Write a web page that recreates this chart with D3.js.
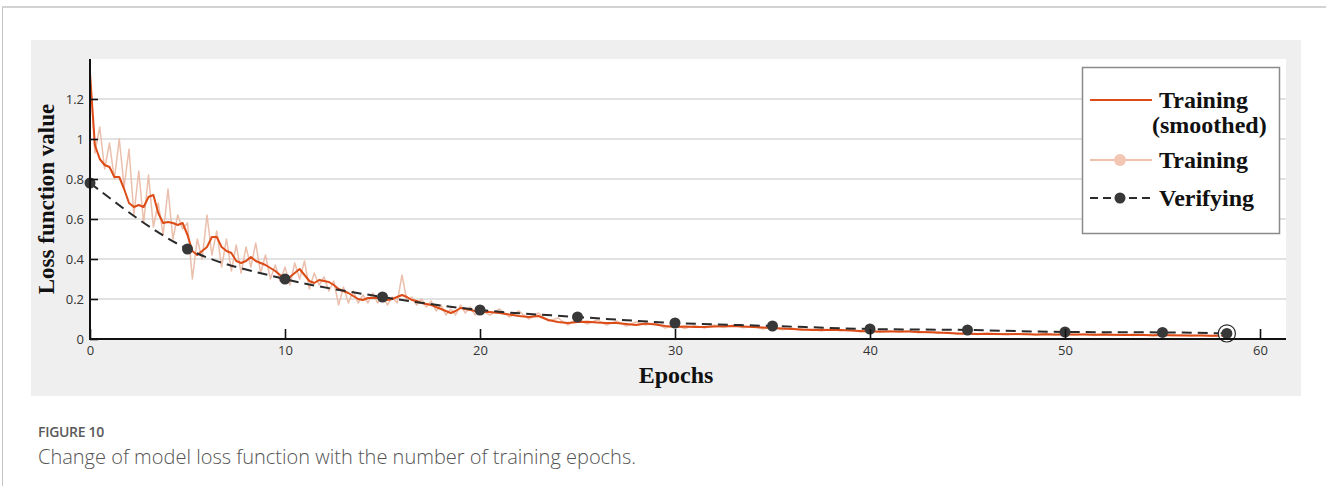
<!DOCTYPE html>
<html>
<head>
<meta charset="utf-8">
<script src="https://cdn.jsdelivr.net/npm/d3@7"></script>
<style>
  html, body { margin: 0; padding: 0; background: #fff; }
  svg { display: block; }
</style>
</head>
<body>
<svg id="chart" width="1326" height="486"></svg>
<script>
// Training loss, sampled every 0.25 epoch up to epoch 20, then every 0.5 epoch.
const trainingSmoothed = [
  1.33, 0.97, 0.90, 0.87, 0.86, 0.81, 0.81, 0.75, 0.68, 0.66, 0.67, 0.66, 0.71, 0.72, 0.63, 0.58,
  0.585, 0.58, 0.57, 0.58, 0.52, 0.44, 0.42, 0.44, 0.46, 0.51, 0.51, 0.46, 0.44, 0.43, 0.39, 0.38,
  0.39, 0.41, 0.39, 0.38, 0.37, 0.355, 0.34, 0.32, 0.305, 0.31, 0.33, 0.35, 0.32, 0.29, 0.28, 0.295,
  0.29, 0.285, 0.27, 0.25, 0.24, 0.23, 0.215, 0.20, 0.195, 0.205, 0.205, 0.205, 0.20, 0.195, 0.20, 0.21,
  0.22, 0.21, 0.195, 0.19, 0.18, 0.175, 0.17, 0.16, 0.15, 0.14, 0.13, 0.14, 0.155, 0.15, 0.145, 0.14,
  0.135,
  0.135, 0.13, 0.122, 0.115, 0.11, 0.115, 0.095, 0.085, 0.08, 0.085, 0.086, 0.082, 0.08, 0.08, 0.075, 0.07,
  0.078, 0.073, 0.065, 0.06, 0.062, 0.06, 0.06, 0.062, 0.064, 0.065, 0.063, 0.06, 0.057, 0.055, 0.052, 0.05,
  0.047, 0.045, 0.046, 0.045, 0.045, 0.043, 0.04, 0.038, 0.037, 0.037, 0.038, 0.037, 0.035, 0.034, 0.032, 0.03,
  0.028, 0.026, 0.025, 0.026, 0.025, 0.024, 0.025, 0.024, 0.023, 0.024, 0.023, 0.022, 0.023, 0.022, 0.021, 0.022,
  0.021, 0.02, 0.021, 0.02, 0.019, 0.02, 0.019, 0.018, 0.018, 0.017, 0.016, 0.016, 0.015
];
const trainingRaw = [
  1.33, 0.93, 1.06, 0.85, 0.98, 0.80, 1.00, 0.76, 0.95, 0.62, 0.84, 0.58, 0.82, 0.56, 0.68, 0.52,
  0.75, 0.50, 0.62, 0.55, 0.58, 0.30, 0.50, 0.40, 0.62, 0.42, 0.54, 0.36, 0.50, 0.34, 0.47, 0.33,
  0.46, 0.36, 0.48, 0.33, 0.42, 0.30, 0.37, 0.29, 0.36, 0.27, 0.38, 0.30, 0.39, 0.25, 0.33, 0.27,
  0.31, 0.24, 0.29, 0.17, 0.26, 0.18, 0.24, 0.18, 0.22, 0.18, 0.23, 0.18, 0.22, 0.17, 0.21, 0.18,
  0.32, 0.19, 0.21, 0.17, 0.20, 0.16, 0.19, 0.14, 0.17, 0.12, 0.15, 0.12, 0.17, 0.13, 0.16, 0.12,
  0.15,
  0.12, 0.15, 0.11, 0.14, 0.10, 0.13, 0.09, 0.105, 0.07, 0.10, 0.075, 0.095, 0.07, 0.09, 0.065, 0.085,
  0.07, 0.08, 0.055, 0.07, 0.052, 0.068, 0.055, 0.07, 0.058, 0.07, 0.056, 0.065, 0.05, 0.06, 0.046, 0.055,
  0.042, 0.05, 0.04, 0.05, 0.04, 0.047, 0.035, 0.042, 0.033, 0.041, 0.034, 0.04, 0.031, 0.037, 0.028, 0.034,
  0.024, 0.03, 0.022, 0.029, 0.022, 0.027, 0.022, 0.027, 0.02, 0.027, 0.02, 0.025, 0.02, 0.025, 0.018, 0.024,
  0.018, 0.023, 0.018, 0.022, 0.016, 0.022, 0.016, 0.02, 0.015, 0.019, 0.014, 0.017, 0.015
];

// Validation loss, evaluated every 5 epochs plus the final epoch.
const verifyEpochs = [0, 5, 10, 15, 20, 25, 30, 35, 40, 45, 50, 55, 58.3];
const verifyLoss   = [0.78, 0.45, 0.30, 0.21, 0.145, 0.11, 0.08, 0.065, 0.05, 0.045, 0.035, 0.033, 0.028];

const xTicks = [0, 10, 20, 30, 40, 50, 60];
const yTicks = [0, 0.2, 0.4, 0.6, 0.8, 1, 1.2];
const legendItems = ["Training (smoothed)", "Training", "Verifying"];

// epoch for sample i: quarter-epoch steps for the first 20 epochs, half-epoch steps after
const sampleEpoch = i => (i <= 80 ? i * 0.25 : 20 + (i - 80) * 0.5);

const svg = d3.select("#chart");
const W = 1326, H = 486;

// outer page frame
svg.append("line").attr("x1", 2).attr("x2", W).attr("y1", 7).attr("y2", 7)
  .attr("stroke", "#c4c4c4").attr("stroke-width", 1.5);
svg.append("line").attr("x1", 2.5).attr("x2", 2.5).attr("y1", 7).attr("y2", H)
  .attr("stroke", "#c4c4c4").attr("stroke-width", 1);

// grey figure panel
svg.append("rect").attr("x", 31).attr("y", 40).attr("width", 1270).attr("height", 356)
  .attr("fill", "#efefef");

const x = d3.scaleLinear().domain([0, 60]).range([90, 1260]);
const y = d3.scaleLinear().domain([0, 1.4]).range([339, 59]);
const plotRight = 1286;

// white plotting area
svg.append("rect").attr("x", x(0)).attr("y", y(1.4))
  .attr("width", plotRight - x(0)).attr("height", y(0) - y(1.4)).attr("fill", "#fff");

// horizontal grid
svg.append("g").selectAll("line").data(yTicks.filter(d => d > 0)).join("line")
  .attr("x1", x(0)).attr("x2", plotRight)
  .attr("y1", d => y(d)).attr("y2", d => y(d))
  .attr("stroke", "#d9d9d9").attr("stroke-width", 1.6);

const lineFrom = (vals) => d3.line()
  .x((d, i) => x(sampleEpoch(i)))
  .y(d => y(d))(vals);

// raw training loss
svg.append("path").attr("d", lineFrom(trainingRaw))
  .attr("fill", "none").attr("stroke", "#e9b8a3").attr("stroke-width", 1.5)
  .attr("stroke-linejoin", "round").attr("opacity", 0.9);

// smoothed training loss
svg.append("path").attr("d", lineFrom(trainingSmoothed))
  .attr("fill", "none").attr("stroke", "#dd4c17").attr("stroke-width", 2)
  .attr("stroke-linejoin", "round");

// validation loss
const verifyLine = d3.line().x((d, i) => x(verifyEpochs[i])).y(d => y(d)).curve(d3.curveMonotoneX);
svg.append("path").attr("d", verifyLine(verifyLoss))
  .attr("fill", "none").attr("stroke", "#2b2b2b").attr("stroke-width", 2)
  .attr("stroke-dasharray", "10,6");

svg.append("g").selectAll("circle").data(verifyLoss).join("circle")
  .attr("cx", (d, i) => x(verifyEpochs[i])).attr("cy", d => y(d))
  .attr("r", 5.5).attr("fill", "#383838");

// highlight ring on the final validation point
const last = verifyLoss.length - 1;
svg.append("circle").attr("cx", x(verifyEpochs[last])).attr("cy", y(verifyLoss[last]))
  .attr("r", 7.3).attr("fill", "none").attr("stroke", "#fff").attr("stroke-width", 2);
svg.append("circle").attr("cx", x(verifyEpochs[last])).attr("cy", y(verifyLoss[last]))
  .attr("r", 8.6).attr("fill", "none").attr("stroke", "#2b2b2b").attr("stroke-width", 1.2);

// axes
const tickFont = "'Open Sans', 'Noto Sans', sans-serif";
const yAxis = svg.append("g").attr("transform", `translate(${x(0)},0)`)
  .call(d3.axisLeft(y).tickValues(yTicks).tickFormat(d3.format("~g")).tickSize(-8).tickPadding(6));
yAxis.select(".domain").remove();
yAxis.selectAll(".tick line").attr("stroke", "#111").attr("stroke-width", 1.6);
yAxis.selectAll("text").attr("font-family", tickFont).attr("font-size", 13).attr("fill", "#333");

const xAxis = svg.append("g").attr("transform", `translate(0,${y(0)})`)
  .call(d3.axisBottom(x).tickValues(xTicks).tickFormat(d3.format("d")).tickSize(-10).tickPadding(7));
xAxis.select(".domain").remove();
xAxis.selectAll(".tick line").attr("stroke", "#111").attr("stroke-width", 1.6);
xAxis.selectAll("text").attr("font-family", tickFont).attr("font-size", 13).attr("fill", "#333");

svg.append("line").attr("x1", x(0)).attr("x2", x(0)).attr("y1", y(1.4)).attr("y2", y(0) + 1)
  .attr("stroke", "#111").attr("stroke-width", 2);
svg.append("line").attr("x1", x(0) - 1).attr("x2", plotRight).attr("y1", y(0)).attr("y2", y(0))
  .attr("stroke", "#111").attr("stroke-width", 2);

// axis titles
const titleFont = "'Liberation Serif', 'DejaVu Serif', serif";
svg.append("text").attr("x", 676).attr("y", 383).attr("text-anchor", "middle")
  .attr("font-family", titleFont).attr("font-weight", "bold").attr("font-size", 24)
  .attr("fill", "#111").text("Epochs");
svg.append("text").attr("transform", "translate(54,199) rotate(-90)").attr("text-anchor", "middle")
  .attr("font-family", titleFont).attr("font-weight", "bold").attr("font-size", 23)
  .attr("fill", "#111").text("Loss function value");

// legend
const lg = svg.append("g");
lg.append("rect").attr("x", 1082.5).attr("y", 67.5).attr("width", 197).attr("height", 166)
  .attr("fill", "#fff").attr("stroke", "#8a8a8a").attr("stroke-width", 1.5);
const legText = (tx, ty, s) => lg.append("text").attr("x", tx).attr("y", ty)
  .attr("font-family", titleFont).attr("font-weight", "bold").attr("font-size", 24)
  .attr("fill", "#111").text(s);

lg.append("line").attr("x1", 1090).attr("x2", 1152).attr("y1", 100).attr("y2", 100)
  .attr("stroke", "#dd4c17").attr("stroke-width", 1.8);
legText(1159, 108, legendItems[0].split(" ")[0]);
legText(1152, 133, legendItems[0].split(" ")[1]);

lg.append("line").attr("x1", 1090).attr("x2", 1152).attr("y1", 160).attr("y2", 160)
  .attr("stroke", "#efc1ad").attr("stroke-width", 1.8);
lg.append("circle").attr("cx", 1120).attr("cy", 160).attr("r", 6).attr("fill", "#f2c6b3");
legText(1159, 168, legendItems[1]);

lg.append("line").attr("x1", 1090).attr("x2", 1152).attr("y1", 198).attr("y2", 198)
  .attr("stroke", "#2b2b2b").attr("stroke-width", 1.8).attr("stroke-dasharray", "8,5");
lg.append("circle").attr("cx", 1120).attr("cy", 198).attr("r", 5.5).attr("fill", "#383838");
legText(1159, 206, legendItems[2]);

// caption
svg.append("text").attr("x", 38).attr("y", 437)
  .attr("font-family", "'Open Sans', 'Noto Sans', sans-serif").attr("font-size", 14)
  .attr("font-weight", 600).attr("fill", "#5a5a5a").attr("letter-spacing", -0.3).text("FIGURE 10");
svg.append("text").attr("x", 38).attr("y", 464)
  .attr("font-family", "'Open Sans', 'Noto Sans', sans-serif").attr("font-size", 20)
  .attr("font-weight", 300).attr("fill", "#555").text("Change of model loss function with the number of training epochs.");
</script>
</body>
</html>
